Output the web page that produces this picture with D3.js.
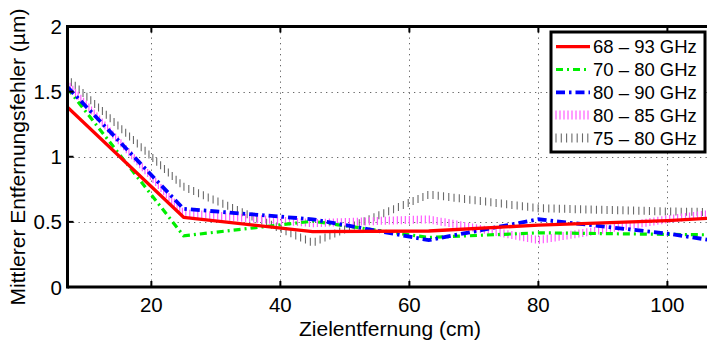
<!DOCTYPE html>
<html>
<head>
<meta charset="utf-8">
<script src="https://cdn.jsdelivr.net/npm/d3@7"></script>
<style>
  html, body { margin: 0; padding: 0; background: #fff; overflow: hidden; }
  svg { display: block; }
  text { font-family: "Liberation Sans", Arial, Helvetica, sans-serif; fill: #000; }
</style>
</head>
<body>
<svg id="chart" width="707" height="342"></svg>
<script>
// Target distance in cm
const distances = [7, 25, 45, 63, 80, 100, 108];

// Mean range error (µm) per frequency band
const band68to93 = [1.38, 0.535, 0.425, 0.43, 0.475, 0.51, 0.532];
const band70to80 = [1.525, 0.393, 0.505, 0.38, 0.416, 0.404, 0.40];
const band80to90 = [1.535, 0.60, 0.52, 0.36, 0.52, 0.41, 0.35];
const band80to85 = [1.56, 0.567, 0.49, 0.52, 0.36, 0.52, 0.57];
const band75to80 = [1.60, 0.77, 0.34, 0.71, 0.605, 0.58, 0.575];

const seriesNames = ["68 – 93 GHz", "70 – 80 GHz", "80 – 90 GHz", "80 – 85 GHz", "75 – 80 GHz"];

const xTicks = [20, 40, 60, 80, 100];
const yTicks = [0, 0.5, 1, 1.5, 2];
const yTickLabels = ["0", "0.5", "1", "1.5", "2"];

const xTitle = "Zielentfernung (cm)";
const yTitle = "Mittlerer Entfernungsfehler (µm)";

const svg = d3.select("#chart");
const margin = { left: 67.5, top: 26.5, bottom: 287 };
const plotRight = 719;

const x = d3.scaleLinear().domain([7, 108]).range([margin.left, plotRight]);
const y = d3.scaleLinear().domain([0, 2]).range([margin.bottom, margin.top]);

// clip for the plotting area
svg.append("defs").append("clipPath").attr("id", "plotClip")
  .append("rect")
  .attr("x", margin.left).attr("y", margin.top)
  .attr("width", plotRight - margin.left).attr("height", margin.bottom - margin.top);

// dotted grid
const grid = svg.append("g").attr("stroke", "#666").attr("stroke-width", 1)
  .attr("stroke-dasharray", "1.3,4.2");
grid.selectAll("line.gx").data(xTicks).join("line")
  .attr("x1", d => Math.round(x(d)) + 0.5).attr("x2", d => Math.round(x(d)) + 0.5)
  .attr("y1", margin.top).attr("y2", margin.bottom);
grid.selectAll("line.gy").data(yTicks.filter(v => v > 0 && v < 2)).join("line")
  .attr("y1", d => Math.round(y(d)) + 0.5).attr("y2", d => Math.round(y(d)) + 0.5)
  .attr("x1", margin.left).attr("x2", plotRight);

const plot = svg.append("g").attr("clip-path", "url(#plotClip)");

const line = d3.line().x((d, i) => x(distances[i])).y(d => y(d));

// hatched (thick dotted) series: short vertical strokes placed along the path
function hatch(g, values, color, spacing, len, w) {
  const p = g.append("path").attr("d", line(values)).attr("fill", "none").attr("stroke", "none");
  const node = p.node();
  const total = node.getTotalLength();
  const pts = d3.range(0, total, spacing).map(l => node.getPointAtLength(l));
  g.append("g").selectAll("line").data(pts).join("line")
    .attr("x1", d => d.x).attr("x2", d => d.x)
    .attr("y1", d => d.y - len / 2).attr("y2", d => d.y + len / 2)
    .attr("stroke", color).attr("stroke-width", w);
}

hatch(plot, band75to80, "#6a6a6a", 5.3, 8, 1.1);
hatch(plot, band80to85, "#ff5cff", 4, 8, 1.2);

plot.append("path").attr("d", line(band70to80)).attr("fill", "none")
  .attr("stroke", "#00ee00").attr("stroke-width", 3.2)
  .attr("stroke-dasharray", "7,4,2,4");
plot.append("path").attr("d", line(band80to90)).attr("fill", "none")
  .attr("stroke", "#0000ff").attr("stroke-width", 3.8)
  .attr("stroke-dasharray", "9,4,2.5,4");
plot.append("path").attr("d", line(band68to93)).attr("fill", "none")
  .attr("stroke", "#ff0000").attr("stroke-width", 3.3)
  .attr("stroke-linejoin", "round");

// axes frame
const frame = svg.append("g").attr("stroke", "#000").attr("fill", "none");
frame.append("line").attr("x1", margin.left).attr("x2", plotRight)
  .attr("y1", margin.top).attr("y2", margin.top).attr("stroke-width", 3);
frame.append("line").attr("x1", margin.left).attr("x2", plotRight)
  .attr("y1", margin.bottom).attr("y2", margin.bottom).attr("stroke-width", 3);
frame.append("line").attr("x1", margin.left).attr("x2", margin.left)
  .attr("y1", margin.top - 1.5).attr("y2", margin.bottom + 1.5).attr("stroke-width", 3);

// inward tick marks
frame.selectAll("line.xtb").data(xTicks).join("line")
  .attr("x1", d => x(d)).attr("x2", d => x(d))
  .attr("y1", margin.bottom).attr("y2", margin.bottom - 6).attr("stroke-width", 2);
frame.selectAll("line.xtt").data(xTicks).join("line")
  .attr("x1", d => x(d)).attr("x2", d => x(d))
  .attr("y1", margin.top).attr("y2", margin.top + 6).attr("stroke-width", 2);
frame.selectAll("line.yt").data(yTicks).join("line")
  .attr("x1", margin.left).attr("x2", margin.left + 6)
  .attr("y1", d => y(d)).attr("y2", d => y(d)).attr("stroke-width", 2);

// tick labels
svg.append("g").selectAll("text").data(xTicks).join("text")
  .attr("x", d => x(d)).attr("y", 312)
  .attr("text-anchor", "middle").attr("font-size", 20.5)
  .text(d => d);
svg.append("g").selectAll("text").data(yTicks).join("text")
  .attr("x", 62).attr("y", d => y(d) + 7.5)
  .attr("text-anchor", "end").attr("font-size", 20.5)
  .text((d, i) => yTickLabels[i]);

// axis titles
svg.append("text").attr("x", 390).attr("y", 336)
  .attr("text-anchor", "middle").attr("font-size", 21).text(xTitle);
svg.append("text").attr("transform", "translate(25,157) rotate(-90)")
  .attr("text-anchor", "middle").attr("font-size", 21).text(yTitle);

// legend
const legend = svg.append("g");
legend.append("rect").attr("x", 551).attr("y", 32).attr("width", 154).attr("height", 120)
  .attr("fill", "#fff").attr("stroke", "#000").attr("stroke-width", 3);
const rowY = i => 46.7 + i * 22.8;
const sx1 = 556, sx2 = 590;

legend.append("line").attr("x1", sx1).attr("x2", sx2).attr("y1", rowY(0)).attr("y2", rowY(0))
  .attr("stroke", "#ff0000").attr("stroke-width", 3.3);
legend.append("line").attr("x1", sx1).attr("x2", sx2).attr("y1", rowY(1)).attr("y2", rowY(1))
  .attr("stroke", "#00ee00").attr("stroke-width", 3.2).attr("stroke-dasharray", "7,4,2,4");
legend.append("line").attr("x1", sx1).attr("x2", sx2).attr("y1", rowY(2)).attr("y2", rowY(2))
  .attr("stroke", "#0000ff").attr("stroke-width", 3.8).attr("stroke-dasharray", "9,4,2.5,4");
legend.append("g").selectAll("line").data(d3.range(sx1, sx2, 4)).join("line")
  .attr("x1", d => d).attr("x2", d => d).attr("y1", rowY(3) - 4.5).attr("y2", rowY(3) + 4.5)
  .attr("stroke", "#ff5cff").attr("stroke-width", 1.2);
legend.append("g").selectAll("line").data(d3.range(sx1, sx2, 5.3)).join("line")
  .attr("x1", d => d).attr("x2", d => d).attr("y1", rowY(4) - 4.5).attr("y2", rowY(4) + 4.5)
  .attr("stroke", "#6a6a6a").attr("stroke-width", 1.1);

legend.selectAll("text").data(seriesNames).join("text")
  .attr("x", 593).attr("y", (d, i) => rowY(i) + 6.6)
  .attr("font-size", 18.5).text(d => d);
</script>
</body>
</html>
